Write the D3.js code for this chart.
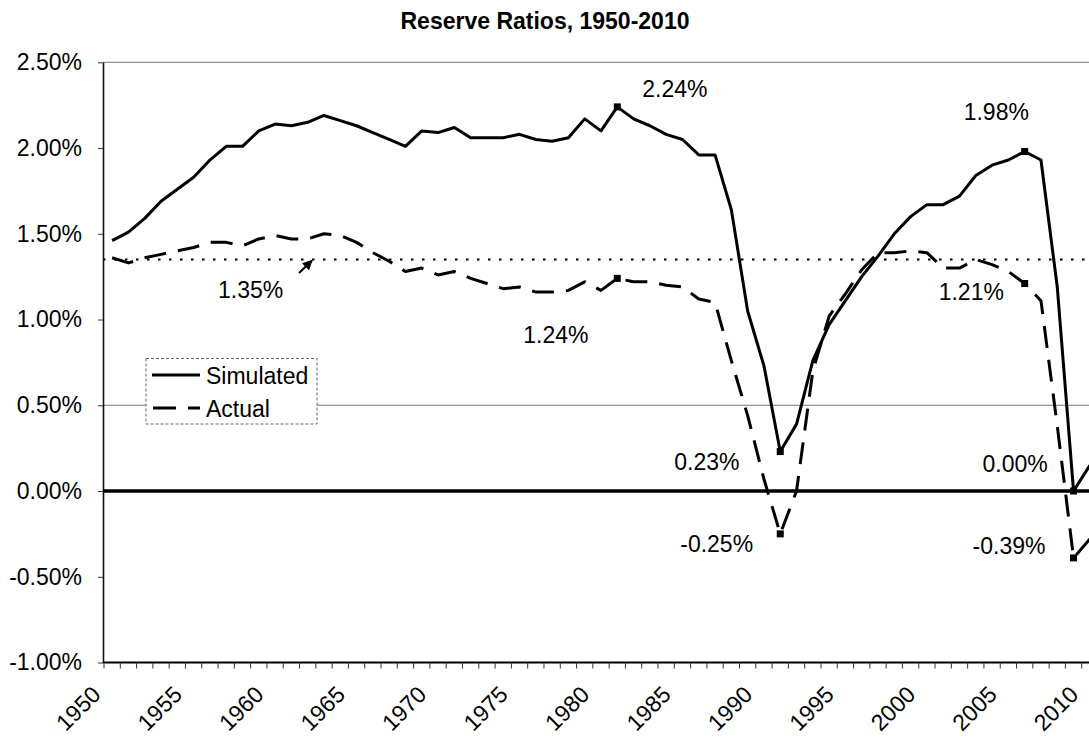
<!DOCTYPE html>
<html><head><meta charset="utf-8">
<script src="https://cdn.jsdelivr.net/npm/d3@7"></script>
<style>
body{margin:0;background:#fff}
svg{display:block}
text{font-family:"Liberation Sans",Arial,Helvetica,sans-serif;fill:#000}
</style>
</head><body>
<svg id="chart" width="1089" height="739"></svg>
<script>
// ---------------- data ----------------
const years = d3.range(1950, 2011);
const simulated = [
  1.46,1.51,1.59,1.69,1.76,1.83,1.93,2.01,2.01,2.10,
  2.14,2.13,2.15,2.19,2.16,2.13,2.09,2.05,2.01,2.10,
  2.09,2.12,2.06,2.06,2.06,2.08,2.05,2.04,2.06,2.17,
  2.10,2.24,2.17,2.13,2.08,2.05,1.96,1.96,1.64,1.05,
  0.73,0.23,0.39,0.76,0.97,1.11,1.25,1.37,1.50,1.60,
  1.67,1.67,1.72,1.84,1.90,1.93,1.98,1.93,1.19,0.00,
  0.15
];
const actual = [
  1.36,1.33,1.36,1.38,1.40,1.42,1.45,1.45,1.43,1.47,
  1.49,1.47,1.47,1.50,1.49,1.45,1.39,1.34,1.28,1.30,
  1.26,1.28,1.24,1.21,1.18,1.19,1.16,1.16,1.17,1.22,
  1.17,1.24,1.22,1.22,1.20,1.19,1.12,1.10,0.76,0.44,
  0.07,-0.25,0.00,0.70,1.02,1.15,1.29,1.39,1.39,1.40,
  1.39,1.30,1.30,1.35,1.32,1.28,1.21,1.11,0.38,-0.39,
  -0.28
];
const seriesNames = ["Simulated", "Actual"];
const yTicks = [-1.0, -0.5, 0.0, 0.5, 1.0, 1.5, 2.0, 2.5];
const xLabelYears = [1950,1955,1960,1965,1970,1975,1980,1985,1990,1995,2000,2005,2010];
const gridValues = [2.5, 0.5];
const targetRatio = 1.35;
const markedYears = [1981, 1991, 2006, 2009];
const title = "Reserve Ratios, 1950-2010";

// ---------------- layout ----------------
const svg = d3.select("#chart");
const FS = 23;
const step = 16.295;
const x0 = 104;
const x = d3.scaleBand().domain(years).range([x0, x0 + step * years.length]).padding(0);
const xc = yr => x(yr) + x.bandwidth() / 2;
const y = d3.scaleLinear().domain([-1, 2.5]).range([662.5, 62.3]);
const fmt = v => (v < 0 ? "-" : "") + Math.abs(v).toFixed(2) + "%";
const plotLeft = 103, plotRight = 1089;

// title
svg.append("text").attr("x", 545).attr("y", 29).attr("text-anchor", "middle")
  .attr("font-weight", "bold").attr("font-size", FS).text(title);

// gridlines
svg.append("g").selectAll("line").data(gridValues).join("line")
  .attr("x1", plotLeft).attr("x2", plotRight)
  .attr("y1", d => y(d)).attr("y2", d => y(d))
  .attr("stroke", "#777").attr("stroke-width", 1);

// target dotted line
svg.append("line").attr("x1", plotLeft).attr("x2", plotRight)
  .attr("y1", y(targetRatio)).attr("y2", y(targetRatio))
  .attr("stroke", "#000").attr("stroke-width", 2).attr("stroke-dasharray", "2.5,8.5");

// y axis
const yAxis = d3.axisLeft(y).tickValues(yTicks).tickFormat(fmt).tickSize(5).tickSizeOuter(0).tickPadding(16);
const gy = svg.append("g").attr("transform", `translate(${plotLeft},0)`).call(yAxis);
gy.select(".domain").attr("stroke", "#111").attr("stroke-width", 1.6);
gy.selectAll(".tick line").attr("stroke", "#333");
gy.selectAll(".tick text").attr("font-size", FS).attr("font-family", '"Liberation Sans",Arial,sans-serif').attr("fill", "#000");

// x axis line at bottom
svg.append("line").attr("x1", plotLeft).attr("x2", plotRight)
  .attr("y1", y(-1)).attr("y2", y(-1)).attr("stroke", "#000").attr("stroke-width", 2);
const tickPos = years.map(yr => x(yr)).concat([x(2010) + x.bandwidth()]);
svg.append("g").selectAll("line").data(tickPos).join("line")
  .attr("x1", d => d).attr("x2", d => d)
  .attr("y1", y(-1)).attr("y2", y(-1) + 6)
  .attr("stroke", "#333").attr("stroke-width", 1);
svg.append("g").selectAll("text").data(xLabelYears).join("text")
  .attr("transform", d => `translate(${x(d) - 2},${696}) rotate(-45)`)
  .attr("text-anchor", "end").attr("font-size", FS).text(d => d);

// zero line
svg.append("line").attr("x1", plotLeft).attr("x2", plotRight)
  .attr("y1", y(0)).attr("y2", y(0)).attr("stroke", "#000").attr("stroke-width", 3.5);

// series
const line = d3.line().x((d, i) => xc(years[i])).y(d => y(d));
svg.append("path").datum(simulated).attr("d", line)
  .attr("fill", "none").attr("stroke", "#000").attr("stroke-width", 3).attr("stroke-linejoin", "round");
svg.append("path").datum(actual).attr("d", line)
  .attr("fill", "none").attr("stroke", "#000").attr("stroke-width", 3)
  .attr("stroke-dasharray", "22,12").attr("stroke-linejoin", "round");

// markers + labels
const marks = [];
markedYears.forEach(yr => {
  const i = years.indexOf(yr);
  marks.push({yr, v: simulated[i], s: 0});
  marks.push({yr, v: actual[i], s: 1});
});
const offsets = {
  "1981-0": [25, -10], "1981-1": [-94, 65],
  "1991-0": [-106, 18], "1991-1": [-100, 18],
  "2006-0": [-61, -31], "2006-1": [-86, 16],
  "2009-0": [-91, -19], "2009-1": [-101, -4]
};
svg.append("g").selectAll("rect").data(marks).join("rect")
  .attr("x", d => xc(d.yr) - 3.5).attr("y", d => y(d.v) - 3.5)
  .attr("width", 7).attr("height", 7).attr("fill", "#000");
svg.append("g").selectAll("text").data(marks).join("text")
  .attr("x", d => xc(d.yr) + offsets[d.yr + "-" + d.s][0])
  .attr("y", d => y(d.v) + offsets[d.yr + "-" + d.s][1])
  .attr("font-size", FS).text(d => fmt(d.v));

// 1.35% annotation
svg.append("defs").append("marker").attr("id", "arr").attr("viewBox", "0 0 10 10")
  .attr("refX", 9).attr("refY", 5).attr("markerWidth", 5).attr("markerHeight", 5)
  .attr("orient", "auto").append("path").attr("d", "M0,0L10,5L0,10z").attr("fill", "#000");
svg.append("line").attr("x1", 299).attr("y1", 273).attr("x2", 312).attr("y2", y(targetRatio) + 1)
  .attr("stroke", "#000").attr("stroke-width", 2).attr("marker-end", "url(#arr)");
svg.append("text").attr("x", 218).attr("y", 298).attr("font-size", FS).text(fmt(targetRatio));

// legend
const lg = svg.append("g");
lg.append("rect").attr("x", 146).attr("y", 358.5).attr("width", 171).attr("height", 65.5)
  .attr("fill", "#fff").attr("stroke", "#666").attr("stroke-width", 1).attr("stroke-dasharray", "3,2");
lg.append("line").attr("x1", 152).attr("x2", 200).attr("y1", 375).attr("y2", 375)
  .attr("stroke", "#000").attr("stroke-width", 3);
lg.append("line").attr("x1", 153).attr("x2", 200).attr("y1", 408).attr("y2", 408)
  .attr("stroke", "#000").attr("stroke-width", 3).attr("stroke-dasharray", "23,12");
lg.append("text").attr("x", 206).attr("y", 384).attr("font-size", FS).text(seriesNames[0]);
lg.append("text").attr("x", 206).attr("y", 417).attr("font-size", FS).text(seriesNames[1]);
</script>
</body></html>
